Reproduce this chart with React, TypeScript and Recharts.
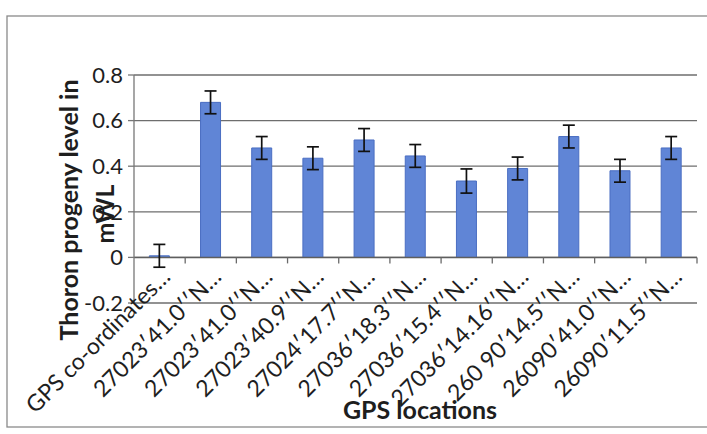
import { BarChart, Bar, XAxis, YAxis, CartesianGrid, ErrorBar, ReferenceLine } from "recharts";

// GPS locations (labels as Excel truncated them)
const locations = [
  "GPS co-ordinates…",
  "27023′41.0′′N…",
  "27023′41.0′′N…",
  "27023′40.9′′N…",
  "27024′17.7′′N…",
  "27036′18.3′′N…",
  "27036′15.4′′N…",
  "27036′14.16′′N…",
  "260 90′14.5′′N…",
  "26090′41.0′′N…",
  "26090′11.5′′N…",
];
// thoron progeny level (mWL) and its error
const progeny = [0.007, 0.68, 0.48, 0.435, 0.515, 0.445, 0.335, 0.39, 0.53, 0.38, 0.48];
const errors = [0.05, 0.05, 0.05, 0.05, 0.05, 0.05, 0.053, 0.05, 0.05, 0.05, 0.05];
const yTicks = [-0.2, 0, 0.2, 0.4, 0.6, 0.8];

const data = locations.map((name, i) => ({ name, value: progeny[i], err: errors[i] }));

const W = 707;
const H = 434;
const PLOT_LEFT = 134;
const PLOT_RIGHT = 697;
const PLOT_TOP = 75;
const PLOT_BOTTOM = 303;
const ZERO_Y = PLOT_TOP + (0.8 / 1.0) * (PLOT_BOTTOM - PLOT_TOP);
const BAND = (PLOT_RIGHT - PLOT_LEFT) / locations.length;
const FONT = "Lato, 'Open Sans', sans-serif";
const INK = "#1e1e1e";

function CategoryTick({ x, payload }: { x?: number; payload?: { value: string } }) {
  const cx = x ?? 0;
  const ax = cx + 12;
  const ay = ZERO_Y + 21;
  return (
    <g>
      <line x1={cx + BAND / 2} x2={cx + BAND / 2} y1={ZERO_Y} y2={ZERO_Y + 6} stroke="#6a6a6a" strokeWidth={1.3} />
      <text
        x={ax}
        y={ay}
        transform={`rotate(-45 ${ax} ${ay})`}
        textAnchor="end"
        fontSize={23}
        fontFamily={FONT}
        fill={INK}
      >
        {payload?.value}
      </text>
    </g>
  );
}

export default function App() {
  return (
    <div style={{ position: "absolute", left: 0, top: 0, width: W, height: H, background: "#fff" }}>
      <BarChart
        width={W}
        height={H}
        data={data}
        margin={{ top: PLOT_TOP, right: W - PLOT_RIGHT, left: 0, bottom: 0 }}
        barCategoryGap="30%"
      >
        <CartesianGrid vertical={false} stroke="#6e6e6e" strokeWidth={1.3} />
        <XAxis
          dataKey="name"
          height={H - PLOT_BOTTOM}
          axisLine={false}
          tickLine={false}
          interval={0}
          tick={<CategoryTick />}
        />
        <YAxis
          width={PLOT_LEFT}
          domain={[-0.2, 0.8]}
          ticks={yTicks}
          tickFormatter={(v: number) => (v === 0 ? "0" : v.toFixed(1))}
          axisLine={{ stroke: "#777", strokeWidth: 1.3 }}
          tickLine={{ stroke: "#777", strokeWidth: 1.3 }}
          tickSize={6}
          tickMargin={5}
          tick={{ fontSize: 22, fontFamily: FONT, fill: INK }}
        />
        <ReferenceLine y={0} stroke="#5e5e5e" strokeWidth={1.5} />
        <Bar dataKey="value" fill="#6085d6" stroke="#4a6ec2" strokeWidth={1} isAnimationActive={false}>
          <ErrorBar dataKey="err" width={6} stroke="#111" strokeWidth={1.7} isAnimationActive={false} />
        </Bar>
      </BarChart>
      <svg width={W} height={H} style={{ position: "absolute", left: 0, top: 0, pointerEvents: "none" }}>
        <rect x={7} y={16} width={W} height={411} fill="none" stroke="#8a8a8a" strokeWidth={1.3} />
        <text
          x={78}
          y={210}
          transform="rotate(-90 78 210)"
          textAnchor="middle"
          fontSize={25}
          fontWeight="bold"
          fontFamily={FONT}
          fill={INK}
        >
          Thoron progeny level in
        </text>
        <text
          x={114}
          y={214}
          transform="rotate(-90 114 214)"
          textAnchor="middle"
          fontSize={25}
          fontWeight="bold"
          fontFamily={FONT}
          fill={INK}
        >
          mWL
        </text>
        <text x={420} y={419} textAnchor="middle" fontSize={25} fontWeight="bold" fontFamily={FONT} fill={INK}>
          GPS locations
        </text>
      </svg>
    </div>
  );
}
